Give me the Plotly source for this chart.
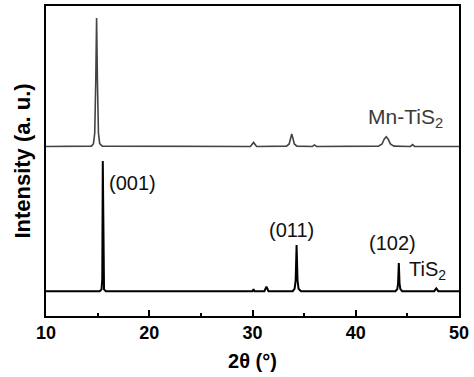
import plotly.graph_objects as go

# TiS2 pattern (2theta, intensity in plotted a.u., offset included)
tis2_x = [10, 15.2, 15.38, 15.45, 15.5, 15.55, 15.62, 15.8,
          30.0, 30.1, 30.2, 31.15, 31.35, 31.55,
          33.9, 34.08, 34.18, 34.27, 34.36, 34.46, 34.7,
          43.85, 44.02, 44.1, 44.17, 44.24, 44.32, 44.5,
          47.6, 47.8, 48.0, 50]
tis2_y = [8.0, 8.0, 8.6, 12.0, 50.0, 12.0, 8.6, 8.0,
          8.0, 8.6, 8.0, 8.0, 9.5, 8.0,
          8.0, 8.8, 11.5, 22.9, 11.5, 8.8, 8.0,
          8.0, 8.7, 10.5, 17.1, 10.5, 8.7, 8.0,
          8.0, 8.9, 8.0, 8.0]

# Mn-TiS2 pattern
mn_x = [10, 14.4, 14.6, 14.72, 14.82, 14.9, 14.98, 15.08, 15.2, 15.45,
        29.8, 30.1, 30.4,
        33.3, 33.55, 33.7, 33.8, 33.9, 34.05, 34.3,
        35.8, 36.0, 36.2,
        42.2, 42.55, 42.75, 42.95, 43.15, 43.35, 43.7,
        45.3, 45.5, 45.7, 50]
mn_y = [54.7, 54.8, 55.6, 59.0, 76.0, 96.1, 76.0, 59.0, 55.6, 54.8,
        54.7, 56.0, 54.7,
        54.8, 55.5, 57.5, 58.7, 57.5, 55.5, 54.8,
        54.7, 55.2, 54.7,
        54.8, 55.5, 57.0, 57.8, 57.0, 55.5, 54.8,
        54.7, 55.3, 54.7, 54.7]

x_ticks = [10, 20, 30, 40, 50]

fig = go.Figure()
fig.add_trace(go.Scatter(x=mn_x, y=mn_y, mode="lines",
                         line=dict(color="#444444", width=1.6), showlegend=False))
fig.add_trace(go.Scatter(x=tis2_x, y=tis2_y, mode="lines",
                         line=dict(color="#000000", width=2), showlegend=False))

FONT = "Liberation Sans, Arial"
ann_font = dict(family=FONT, size=20, color="#111111")
fig.add_annotation(x=48.64, y=63.9, text="Mn-TiS<sub>2</sub>", showarrow=False,
                   xanchor="right", font=dict(family=FONT, size=21, color="#3a3a3a"))
fig.add_annotation(x=15.9, y=42.9, text="(001)", showarrow=False, xanchor="left", font=ann_font)
fig.add_annotation(x=33.8, y=27.6, text="(011)", showarrow=False, font=ann_font)
fig.add_annotation(x=43.6, y=23.6, text="(102)", showarrow=False, font=ann_font)
fig.add_annotation(x=44.95, y=14.6, text="TiS<sub>2</sub>", showarrow=False, xanchor="left", font=ann_font)

fig.update_layout(
    width=474, height=377,
    margin=dict(l=46, r=15, t=6, b=61),
    plot_bgcolor="white", paper_bgcolor="white",
    font=dict(family=FONT, color="black"),
)
fig.update_xaxes(
    range=[10, 50], tickvals=x_ticks, ticks="inside", ticklen=6, tickwidth=1.5,
    tickcolor="black", automargin=False,
    minor=dict(dtick=5, tick0=0, ticks="inside", ticklen=3, tickwidth=1.5, tickcolor="black"),
    showline=True, linecolor="black", linewidth=1.5, mirror=True, showgrid=False,
    zeroline=False,
    tickfont=dict(size=18, family=FONT, color="black", weight="bold"),
    title=dict(text="2θ (°)", font=dict(size=20, weight="bold"), standoff=12),
)
fig.update_yaxes(
    range=[0, 100], showticklabels=False, ticks="", automargin=False,
    showline=True, linecolor="black", linewidth=1.5, mirror=True, showgrid=False,
    zeroline=False,
    title=dict(text="Intensity (a. u.)", font=dict(size=22, weight="bold"), standoff=8),
)
fig.write_html("out.html", config={"displayModeBar": False},
               post_script="document.body.style.margin='0';")
